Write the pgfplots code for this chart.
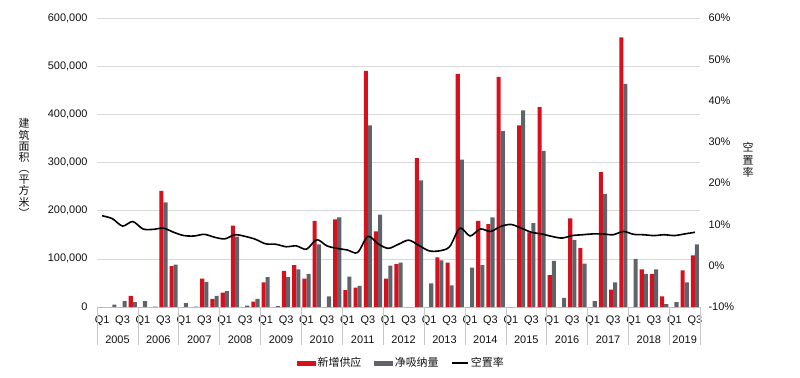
\documentclass[border=0pt]{standalone}
\usepackage{fontspec}
\setmainfont{Liberation Sans}
\newfontfamily\cjk{Noto Sans CJK SC}
\usepackage{pgfplots}
\usepackage{pgfplotstable}
\pgfplotsset{compat=1.18}
\definecolor{barred}{HTML}{D7101E}
\definecolor{bargray}{HTML}{60646A}
\definecolor{gridgray}{HTML}{D9D9D9}
\definecolor{sepgray}{HTML}{C8C8C8}
\definecolor{txt}{HTML}{111111}

\pgfplotstableread{
i supply absorb vac
0 0 0 12.1
1 0 5000 11.4
2 0 12000 9.6
3 23000 10000 10.7
4 0 12000 8.9
5 0 1000 8.8
6 241000 217000 9.1
7 85000 88000 8.1
8 0 8000 7.3
9 0 1000 7.2
10 59000 52000 7.6
11 17000 23000 6.9
12 30000 33000 6.5
13 169000 146000 7.5
14 0 3000 7.1
15 11000 17000 6.4
16 51000 62000 5.3
17 0 2000 5.2
18 75000 62000 4.6
19 87000 78000 4.8
20 59000 69000 4.0
21 179000 130000 6.3
22 0 22000 4.8
23 182000 186000 4.2
24 35000 63000 3.8
25 40000 44000 3.2
26 490000 377000 7.1
27 157000 192000 5.3
28 59000 86000 4.2
29 89000 92000 5.2
30 0 0 6.2
31 309000 263000 4.9
32 0 49000 3.6
33 103000 97000 3.6
34 92000 45000 4.6
35 484000 306000 9.1
36 0 82000 7.2
37 179000 87000 8.9
38 172000 186000 8.3
39 478000 365000 9.5
40 0 0 10.0
41 377000 408000 9.1
42 155000 174000 8.1
43 415000 324000 7.7
44 66000 96000 7.1
45 0 19000 6.7
46 184000 139000 7.3
47 122000 90000 7.5
48 0 12000 7.7
49 280000 235000 7.7
50 36000 51000 7.5
51 560000 463000 8.3
52 0 100000 7.6
53 78000 69000 7.5
54 69000 78000 7.3
55 22000 6000 7.5
56 0 10000 7.3
57 76000 51000 7.7
58 107000 130000 8.1
}\datatable

\begin{document}
\begin{tikzpicture}
\path[use as bounding box] (0,0) rectangle (800bp,378bp);
\begin{axis}[
  at={(97bp,71bp)}, anchor=south west, scale only axis,
  width=603bp, height=289bp,
  xmin=-0.5, xmax=58.5, ymin=0, ymax=600000,
  clip=false,
  axis x line*=bottom, axis y line*=left,
  x axis line style={draw=sepgray, line width=0.6bp, -},
  y axis line style={draw=none, -},
  ymajorgrids, grid style={gridgray, line width=0.6bp},
  ytick={0,100000,200000,300000,400000,500000,600000},
  scaled y ticks=false,
  yticklabel={\pgfmathprintnumber[fixed,precision=0,assume math mode=true,1000 sep={,}]{\tick}},
  yticklabel style={anchor=east, xshift=-6bp, font=\fontsize{11}{13}\selectfont, text=txt},
  ytick style={draw=none},
  xtick={0,2,...,58},
  xticklabels={Q1,Q3,Q1,Q3,Q1,Q3,Q1,Q3,Q1,Q3,Q1,Q3,Q1,Q3,Q1,Q3,Q1,Q3,Q1,Q3,Q1,Q3,Q1,Q3,Q1,Q3,Q1,Q3,Q1,Q3},
  major tick length=0pt,
  xtick style={draw=sepgray, line width=0.6bp},
  xticklabel style={anchor=base, yshift=-16bp, font=\fontsize{11}{13}\selectfont, text=txt},
  extra x ticks={-0.5,3.5,7.5,11.5,15.5,19.5,23.5,27.5,31.5,35.5,39.5,43.5,47.5,51.5,55.5,58.5},
  extra x tick labels={},
  extra x tick style={major tick length=38bp, tick align=outside, tick style={draw=sepgray, line width=0.6bp}},
]
\addplot[ybar, bar width=0.4, bar shift=-0.2, fill=barred, draw=none] table[x=i, y=supply] {\datatable};
\addplot[ybar, bar width=0.4, bar shift=0.2, fill=bargray, draw=none] table[x=i, y=absorb] {\datatable};
\node[anchor=base, font=\fontsize{11}{13}\selectfont, text=txt] at (axis cs:1.5,0) [yshift=-36bp] {2005};
\node[anchor=base, font=\fontsize{11}{13}\selectfont, text=txt] at (axis cs:5.5,0) [yshift=-36bp] {2006};
\node[anchor=base, font=\fontsize{11}{13}\selectfont, text=txt] at (axis cs:9.5,0) [yshift=-36bp] {2007};
\node[anchor=base, font=\fontsize{11}{13}\selectfont, text=txt] at (axis cs:13.5,0) [yshift=-36bp] {2008};
\node[anchor=base, font=\fontsize{11}{13}\selectfont, text=txt] at (axis cs:17.5,0) [yshift=-36bp] {2009};
\node[anchor=base, font=\fontsize{11}{13}\selectfont, text=txt] at (axis cs:21.5,0) [yshift=-36bp] {2010};
\node[anchor=base, font=\fontsize{11}{13}\selectfont, text=txt] at (axis cs:25.5,0) [yshift=-36bp] {2011};
\node[anchor=base, font=\fontsize{11}{13}\selectfont, text=txt] at (axis cs:29.5,0) [yshift=-36bp] {2012};
\node[anchor=base, font=\fontsize{11}{13}\selectfont, text=txt] at (axis cs:33.5,0) [yshift=-36bp] {2013};
\node[anchor=base, font=\fontsize{11}{13}\selectfont, text=txt] at (axis cs:37.5,0) [yshift=-36bp] {2014};
\node[anchor=base, font=\fontsize{11}{13}\selectfont, text=txt] at (axis cs:41.5,0) [yshift=-36bp] {2015};
\node[anchor=base, font=\fontsize{11}{13}\selectfont, text=txt] at (axis cs:45.5,0) [yshift=-36bp] {2016};
\node[anchor=base, font=\fontsize{11}{13}\selectfont, text=txt] at (axis cs:49.5,0) [yshift=-36bp] {2017};
\node[anchor=base, font=\fontsize{11}{13}\selectfont, text=txt] at (axis cs:53.5,0) [yshift=-36bp] {2018};
\node[anchor=base, font=\fontsize{11}{13}\selectfont, text=txt] at (axis cs:57,0) [yshift=-36bp] {2019};
\end{axis}
\begin{axis}[
  at={(97bp,71bp)}, anchor=south west, scale only axis,
  width=603bp, height=289bp,
  xmin=-0.5, xmax=58.5, ymin=-10, ymax=60,
  clip=false,
  axis x line=none, axis y line*=right,
  y axis line style={draw=none, -},
  ytick style={draw=none},
  ytick={-10,0,10,20,30,40,50,60},
  yticklabel={\pgfmathprintnumber[fixed,precision=0,assume math mode=true]{\tick}\%},
  yticklabel style={anchor=west, xshift=5bp, font=\fontsize{11}{13}\selectfont, text=txt},
  legend columns=3,
  legend style={draw=none, fill=none, at={(0.505,-0.194)}, anchor=center,
    font=\cjk\fontsize{11}{13}\selectfont, text=txt,
    /tikz/every even column/.append style={column sep=11bp},
    cells={anchor=west}},
]
\addlegendimage{legend image code/.code={\fill[barred] (0bp,-1.75bp) rectangle (18bp,1.75bp);}}
\addlegendentry{新增供应}
\addlegendimage{legend image code/.code={\fill[bargray] (0bp,-1.75bp) rectangle (18bp,1.75bp);}}
\addlegendentry{净吸纳量}
\addplot[black, line width=1.6bp, smooth, tension=0.5, mark=none,
  legend image code/.code={\draw[black, line width=1.3bp] (0bp,0bp) -- (16bp,0bp);}]
  table[x=i, y=vac] {\datatable};
\addlegendentry{空置率}
\end{axis}
\node[font=\cjk\fontsize{11}{11.2}\selectfont, align=center, text=txt] at (24bp,210bp) {建\\筑\\面\\积\\︵\\平\\方\\米\\︶};
\node[font=\cjk\fontsize{11}{12.5}\selectfont, align=center, text=txt] at (748bp,218bp) {空\\置\\率};
\end{tikzpicture}
\end{document}
